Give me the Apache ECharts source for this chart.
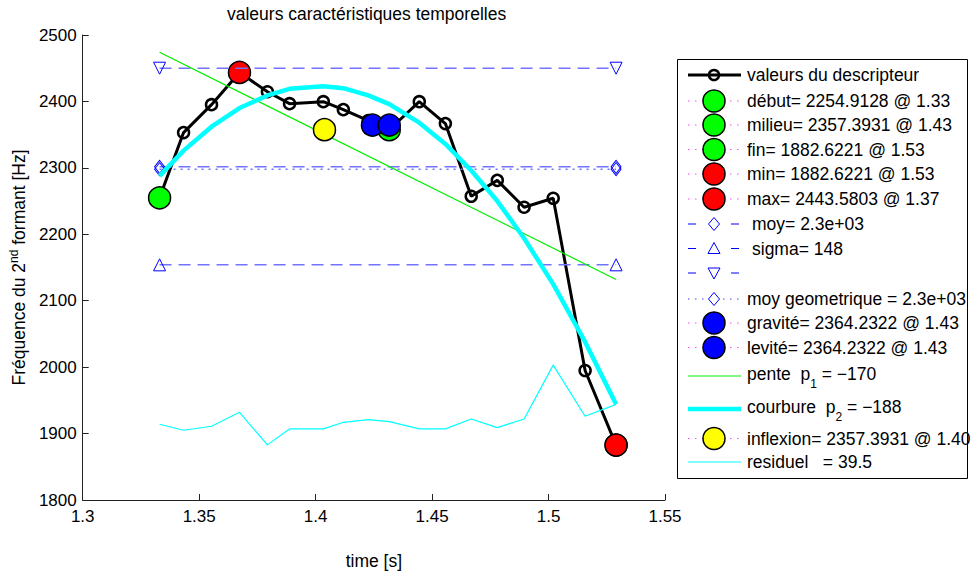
<!DOCTYPE html>
<html>
<head>
<meta charset="utf-8">
<title>valeurs caractéristiques temporelles</title>
<script src="https://cdn.jsdelivr.net/npm/echarts@6/dist/echarts.min.js"></script>
<style>
html, body { margin: 0; padding: 0; background: #fff; }
#main { width: 975px; height: 575px; }
</style>
</head>
<body>
<div id="main"></div>
<script>
// temps des trames (s) et valeurs (Hz)
var temps = [1.3330, 1.3433, 1.3553, 1.3673, 1.3793, 1.3888, 1.4033, 1.4119, 1.4226,
             1.4316, 1.4445, 1.4557, 1.4668, 1.4780, 1.4895, 1.5020, 1.5157, 1.5290];
var descripteur = [2254.9, 2353.1, 2395.1, 2443.6, 2414.6, 2396.6, 2399.6, 2387.6, 2371,
                   2357.4, 2399.6, 2366.6, 2257.2, 2281.2, 2240.7, 2254.2, 1994.9, 1882.6];
var courbure = [2288, 2326, 2362, 2390, 2409, 2419, 2423, 2420, 2409,
                2396, 2368, 2336, 2296, 2250, 2194, 2125, 2038, 1944];
var residuel = [1914, 1905, 1911, 1932, 1883, 1907, 1907, 1917, 1921,
                1918, 1907, 1907, 1922, 1909, 1922, 2003, 1926, 1944];
// droite de regression (extremites)
var pente = [[1.333, 2474], [1.529, 2132]];

// points caracteristiques [t, f]
var debut = [1.3330, 2254.9128];
var milieu = [1.4316, 2357.3931];
var fin = [1.5290, 1882.6221];
var minimum = [1.5290, 1882.6221];
var maximum = [1.3673, 2443.5803];
var gravite = [1.4244, 2364.2322];
var levite = [1.4316, 2364.2322];
var inflexion = [1.4038, 2357.3931];

// niveaux horizontaux
var niveauMoy = 2301.5;
var niveauBas = 2154;   // moy - sigma
var niveauHaut = 2450;  // moy + sigma
var niveauMoyGeo = 2298;

var xTicks = [1.3, 1.35, 1.4, 1.45, 1.5, 1.55];
var yTicks = [1800, 1900, 2000, 2100, 2200, 2300, 2400, 2500];

var police = '"Liberation Sans", Arial, Helvetica, sans-serif';
var myChart = echarts.init(document.getElementById('main'), null, {renderer: 'svg'});

function paires(ys) {
    return temps.map(function (t, i) { return [t, ys[i]]; });
}
function horizontale(v) {
    return [[temps[0], v], [temps[temps.length - 1], v]];
}
function gros(nom, p, couleur) {
    return {
        name: nom, type: 'scatter', data: [p], symbol: 'circle', symbolSize: 22,
        itemStyle: {color: couleur, borderColor: '#000', borderWidth: 1.5, opacity: 1}
    };
}
function niveau(nom, v, forme, rot, dash) {
    return {
        name: nom, type: 'line', data: horizontale(v), symbol: forme, symbolRotate: rot,
        symbolSize: forme === 'diamond' ? [10, 13] : 12,
        lineStyle: {color: '#7373ff', width: 1.5, type: dash},
        itemStyle: {color: 'rgba(255,255,255,0)', borderColor: '#0000ff', borderWidth: 1}
    };
}

var series = [
    {
        name: 'valeurs du descripteur', type: 'line', data: paires(descripteur),
        symbol: 'circle', symbolSize: 11,
        lineStyle: {color: '#000', width: 3},
        itemStyle: {color: 'rgba(255,255,255,0)', borderColor: '#000', borderWidth: 2.5}
    },
    gros('debut', debut, '#00ff00'),
    gros('milieu', milieu, '#00ff00'),
    gros('fin', fin, '#00ff00'),
    gros('min', minimum, '#ff0000'),
    gros('max', maximum, '#ff0000'),
    niveau('moy', niveauMoy, 'diamond', 0, [12, 7]),
    niveau('sigma', niveauBas, 'triangle', 0, [12, 7]),
    niveau('sigma haut', niveauHaut, 'triangle', 180, [12, 7]),
    niveau('moy geo', niveauMoyGeo, 'diamond', 0, [2, 5]),
    gros('gravite', gravite, '#0000ff'),
    gros('levite', levite, '#0000ff'),
    {
        name: 'pente', type: 'line', data: pente, symbol: 'none',
        lineStyle: {color: '#00ee00', width: 1.2}
    },
    {
        name: 'courbure', type: 'line', data: paires(courbure), symbol: 'none',
        lineStyle: {color: '#00ffff', width: 4.5}
    },
    gros('inflexion', inflexion, '#ffff00'),
    {
        name: 'residuel', type: 'line', data: paires(residuel), symbol: 'none',
        lineStyle: {color: '#00ffff', width: 1.2}
    }
];
// ordre d'empilement comme dans matlab : chaque trace par-dessus la precedente
series.forEach(function (s, i) { s.z = 2 + i; });

// legende facon matlab, dessinee a la main
var pointille = function (c) { return {stroke: c, lineWidth: 1, lineDash: [1.5, 5.5]}; };
var tirets = {stroke: '#0000ff', lineWidth: 1, lineDash: [8, 35]};
var rond = function (c) { return {forme: 'rond', r: 11, fill: c, stroke: '#000', lineWidth: 1.5}; };
var entrees = [
    {y: 75, texte: 'valeurs du descripteur', trait: {stroke: '#000', lineWidth: 3},
        marque: {forme: 'rond', r: 5, fill: 'none', stroke: '#000', lineWidth: 2.5}},
    {y: 101, texte: 'début= 2254.9128 @ 1.33', trait: pointille('#ff44ff'), marque: rond('#00ff00')},
    {y: 125, texte: 'milieu= 2357.3931 @ 1.43', trait: pointille('#ff44ff'), marque: rond('#00ff00')},
    {y: 149.5, texte: 'fin= 1882.6221 @ 1.53', trait: pointille('#ff44ff'), marque: rond('#00ff00')},
    {y: 174, texte: 'min= 1882.6221 @ 1.53', trait: pointille('#ff44ff'), marque: rond('#ff0000')},
    {y: 199, texte: 'max= 2443.5803 @ 1.37', trait: pointille('#ff44ff'), marque: rond('#ff0000')},
    {y: 224, texte: 'moy= 2.3e+03', dx: 5, trait: tirets, marque: {forme: 'losange'}},
    {y: 248.5, texte: 'sigma= 148', dx: 5, trait: tirets, marque: {forme: 'haut'}},
    {y: 273, texte: '', trait: tirets, marque: {forme: 'bas'}},
    {y: 299, texte: 'moy geometrique = 2.3e+03', trait: pointille('#4444ff'), marque: {forme: 'losange'}},
    {y: 323, texte: 'gravité= 2364.2322 @ 1.43', trait: pointille('#ff44ff'), marque: rond('#0000ff')},
    {y: 347.5, texte: 'levité= 2364.2322 @ 1.43', trait: pointille('#ff44ff'), marque: rond('#0000ff')},
    {y: 376, texte: 'pente  p{sub|1} = \u2212170', trait: {stroke: '#00ee00', lineWidth: 1}},
    {y: 409, texte: 'courbure  p{sub|2} = \u2212188', trait: {stroke: '#00ffff', lineWidth: 4.5}},
    {y: 438.5, texte: 'inflexion= 2357.3931 @ 1.40', trait: pointille('#ff44ff'), marque: rond('#ffff00')},
    {y: 462, texte: 'residuel   = 39.5', trait: {stroke: '#00ffff', lineWidth: 1}}
];

var graphique = [{
    type: 'rect', shape: {x: 677.5, y: 59.5, width: 290, height: 419},
    style: {fill: '#fff', stroke: '#000', lineWidth: 1}
}];
entrees.forEach(function (e) {
    var cx = 714, cy = e.y;
    graphique.push({type: 'line', shape: {x1: 688, y1: cy, x2: 741, y2: cy}, style: e.trait});
    var m = e.marque;
    if (m && m.forme === 'rond') {
        graphique.push({type: 'circle', shape: {cx: cx, cy: cy, r: m.r},
            style: {fill: m.fill, stroke: m.stroke, lineWidth: m.lineWidth}});
    } else if (m) {
        var pts = m.forme === 'losange' ? [[cx, cy - 6.5], [cx + 5.5, cy], [cx, cy + 6.5], [cx - 5.5, cy]]
            : m.forme === 'haut' ? [[cx, cy - 6], [cx + 6, cy + 5], [cx - 6, cy + 5]]
            : [[cx - 6, cy - 5], [cx + 6, cy - 5], [cx, cy + 6]];
        graphique.push({type: 'polygon', shape: {points: pts},
            style: {fill: '#fff', stroke: '#0000ff', lineWidth: 1}});
    }
    if (e.texte) {
        graphique.push({
            type: 'text', x: 747 + (e.dx || 0), y: e.y - (e.texte.indexOf('{sub') >= 0 ? 2 : 0),
            style: {
                text: e.texte, fill: '#000', fontSize: 17.5, fontFamily: police, verticalAlign: 'middle',
                rich: {sub: {fontSize: 12, fontFamily: police, fill: '#000', padding: [20, 0, 0, 0]}}
            }
        });
    }
});

myChart.setOption({
    backgroundColor: '#fff',
    animation: false,
    title: {
        text: 'valeurs caractéristiques temporelles',
        left: 227, top: 5, padding: 0,
        textStyle: {fontFamily: police, fontSize: 17.5, fontWeight: 'normal', color: '#000'}
    },
    grid: {left: 82, top: 35, width: 583, height: 467},
    xAxis: {
        type: 'value', min: xTicks[0], max: xTicks[xTicks.length - 1], interval: 0.05,
        name: 'time [s]', nameLocation: 'middle', nameGap: 52,
        nameTextStyle: {fontFamily: police, fontSize: 17.5, color: '#000'},
        axisLine: {lineStyle: {color: '#222', width: 1}},
        axisTick: {inside: true, length: 6, lineStyle: {color: '#222'}},
        axisLabel: {fontFamily: police, fontSize: 17, color: '#000', margin: 8,
            formatter: function (v) { return String(+v.toFixed(2)); }},
        splitLine: {show: false}
    },
    yAxis: {
        type: 'value', min: yTicks[0], max: yTicks[yTicks.length - 1], interval: 100,
        name: 'Fréquence du 2{sup|nd} formant [Hz]', nameLocation: 'middle', nameGap: 47,
        nameTextStyle: {fontFamily: police, fontSize: 17.5, color: '#000',
            rich: {sup: {fontFamily: police, fontSize: 12, color: '#000', padding: [0, 0, 10, 0]}}},
        axisLine: {show: true, lineStyle: {color: '#222', width: 1}},
        axisTick: {show: true, inside: true, length: 6, lineStyle: {color: '#222'}},
        axisLabel: {fontFamily: police, fontSize: 17, color: '#000', margin: 6,
            formatter: function (v) { return String(v); }},
        splitLine: {show: false}
    },
    series: series,
    graphic: graphique
});
</script>
</body>
</html>
